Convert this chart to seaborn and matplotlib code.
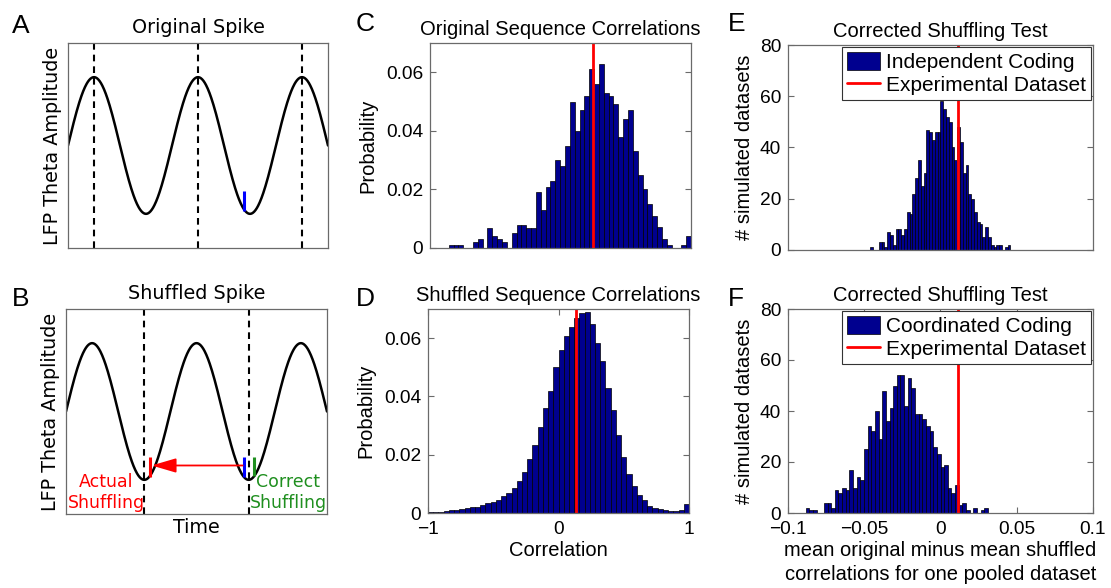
import numpy as np
import pandas as pd
import matplotlib
matplotlib.use("Agg")
import matplotlib.pyplot as plt
import seaborn as sns
from matplotlib.patches import Patch
from matplotlib.lines import Line2D

# ---------------- data ----------------
# Panels A/B: schematic theta wave, 2.5 cycles (positions in units of pi)
wave_span_pi = 5.0
peak_lines_pi = [0.5, 2.5, 4.5]
trough_lines_pi = [1.5, 3.5]
spike_orig_pi = 3.385
spike_actual_pi = 1.603
spike_correct_pi = 3.602
spike_top = -0.66
spike_bottom = -0.96
arrow_y = -0.79
arrow_tip_pi = 1.64
arrow_tail_pi = 3.384
actual_label_pi = 0.766
correct_label_pi = 4.262
label_y = -1.19

# Panel C: original sequence correlations (50 bins)
c_range = (-0.857, 1.0)
c_probs = [0.001, 0.001, 0.001, 0.0, 0.0, 0.002, 0.003, 0.0, 0.007, 0.004,
           0.003, 0.002, 0.0, 0.005, 0.008, 0.008, 0.007, 0.007, 0.019, 0.013,
           0.021, 0.023, 0.030, 0.028, 0.035, 0.050, 0.040, 0.047, 0.052, 0.061,
           0.056, 0.063, 0.053, 0.052, 0.049, 0.038, 0.044, 0.047, 0.033, 0.025,
           0.020, 0.015, 0.011, 0.007, 0.003, 0.001, 0.0, 0.0, 0.001, 0.004]
c_exp = 0.25

# Panel D: shuffled sequence correlations (50 bins)
d_range = (-1.0, 1.0)
d_probs = [0.0002, 0.0002, 0.0005, 0.0007, 0.0009, 0.0011, 0.0015, 0.0016, 0.0022, 0.0022,
           0.0027, 0.0034, 0.0038, 0.0043, 0.0058, 0.0067, 0.0086, 0.0111, 0.0142, 0.0184,
           0.0233, 0.0296, 0.0360, 0.0419, 0.0500, 0.0560, 0.0606, 0.0637, 0.0670, 0.0685,
           0.0690, 0.0648, 0.0585, 0.0520, 0.0429, 0.0355, 0.0267, 0.0193, 0.0133, 0.0091,
           0.0062, 0.0045, 0.0025, 0.0018, 0.0013, 0.0009, 0.0008, 0.0008, 0.0010, 0.0030]
d_exp = 0.134

# Panel E: independent coding (50 bins)
e_range = (-0.046, 0.0459)
e_counts = [1, 0, 0, 3, 3, 1, 7, 6, 2, 8,
            8, 6, 8, 15, 14, 22, 28, 35, 25, 30,
            47, 46, 43, 46, 46, 58, 55, 52, 50, 40,
            35, 48, 42, 30, 33, 22, 20, 15, 11, 10,
            5, 9, 5, 2, 1, 2, 2, 0, 1, 2]
e_exp = 0.0113

# Panel F: coordinated coding (50 bins)
f_range = (-0.0884, 0.0311)
f_counts = [2, 1, 1, 0, 0, 4, 4, 2, 9, 8,
            10, 9, 17, 10, 14, 13, 25, 34, 32, 40,
            29, 48, 36, 41, 50, 54, 54, 42, 53, 49,
            39, 39, 37, 34, 32, 26, 23, 18, 19, 10,
            8, 11, 3, 4, 1, 0, 2, 0, 1, 2]
f_exp = 0.0113

corr_ticks = [-1, 0, 1]
corr_ticklabels = ["\u22121", "0", "1"]
prob_ticks = [0, 0.02, 0.04, 0.06]
prob_ticklabels = ["0", "0.02", "0.04", "0.06"]
count_ticks = [0, 20, 40, 60, 80]
diff_ticks = [-0.1, -0.05, 0, 0.05, 0.1]
diff_ticklabels = ["\u22120.1", "\u22120.05", "0", "0.05", "0.1"]

# ---------------- style ----------------
sns.set_theme(style="white")
plt.rcParams["font.family"] = ["Liberation Sans", "DejaVu Sans"]
plt.rcParams["text.color"] = "black"
plt.rcParams["axes.labelcolor"] = "black"
plt.rcParams["xtick.color"] = "black"
plt.rcParams["ytick.color"] = "black"
NAVY = "#00008f"
SPINE = "#6a6a6a"
W, H = 1111, 588
fig = plt.figure(figsize=(W / 100, H / 100), dpi=100)
fig.patch.set_facecolor("white")

def px_axes(x0, y0, x1, y1):
    return fig.add_axes([x0 / W, 1 - y1 / H, (x1 - x0) / W, (y1 - y0) / H])

def box(ax):
    for s in ax.spines.values():
        s.set_visible(True)
        s.set_color(SPINE)
        s.set_linewidth(0.9)

TICK_FS = 13.8
LAB_FS = 14.5
SCH_FS = 13.8

def hist_panel(ax, rng, vals):
    edges = np.linspace(rng[0], rng[1], len(vals) + 1)
    centers = (edges[:-1] + edges[1:]) / 2
    df = pd.DataFrame({"x": centers, "w": vals})
    sns.histplot(data=df, x="x", weights="w", bins=[float(e) for e in edges], ax=ax,
                 color=NAVY, edgecolor="black", linewidth=0.5, alpha=1.0, stat="count")
    box(ax)
    ax.tick_params(axis="both", direction="in", length=4, width=0.8, color=SPINE,
                   labelcolor="black", labelsize=TICK_FS, pad=5, left=True, right=True)
    ax.set_ylabel("")
    ax.set_xlabel("")

# ---------- A / B schematic ----------
wave_x = np.linspace(0, wave_span_pi * np.pi, 600)
wave_y = np.sin(wave_x)

def schematic(ax, title, dashed):
    sns.lineplot(x=wave_x, y=wave_y, ax=ax, color="black", lw=1.8, sort=False)
    for p in dashed:
        ax.axvline(p * np.pi, color="black", lw=1.5, ls=(0, (3.2, 2.4)))
    ax.set_xlim(0, wave_span_pi * np.pi)
    ax.set_ylim(-1.5, 1.5)
    ax.set_xticks([])
    ax.set_yticks([])
    box(ax)
    ax.set_title(title, fontsize=SCH_FS, family="DejaVu Sans", pad=7)
    ax.set_ylabel("LFP Theta Amplitude", fontsize=SCH_FS, family="DejaVu Sans", labelpad=4)

axA = px_axes(68, 43, 328, 248)
schematic(axA, "Original Spike", peak_lines_pi)
axA.vlines(spike_orig_pi * np.pi, spike_bottom, spike_top, color="#0000ff", lw=2.2)

axB = px_axes(66, 309, 327, 514)
schematic(axB, "Shuffled Spike", trough_lines_pi)
axB.vlines(spike_actual_pi * np.pi, spike_bottom, spike_top, color="red", lw=2.2)
axB.vlines(spike_orig_pi * np.pi + 0.06, spike_bottom, spike_top, color="#0000ff", lw=2.2)
axB.vlines(spike_correct_pi * np.pi, spike_bottom + 0.02, spike_top, color="#1f8f1f", lw=2.2)
axB.annotate("", xy=(arrow_tip_pi * np.pi, arrow_y), xytext=(arrow_tail_pi * np.pi, arrow_y),
             arrowprops=dict(arrowstyle="-|>,head_length=0.75,head_width=0.22", color="red",
                             lw=1.3, mutation_scale=20, shrinkA=0, shrinkB=0))
axB.text(actual_label_pi * np.pi, label_y, "Actual\nShuffling", color="red", ha="center",
         va="center", fontsize=12.5, family="DejaVu Sans")
axB.text(correct_label_pi * np.pi, label_y, "Correct\nShuffling", color="#1f8f1f", ha="center",
         va="center", fontsize=12.5, family="DejaVu Sans")
axB.set_xlabel("Time", fontsize=SCH_FS, family="DejaVu Sans", labelpad=3)

# ---------- C ----------
axC = px_axes(430, 43, 691, 248)
hist_panel(axC, c_range, c_probs)
axC.axvline(c_exp, color="red", lw=2.0)
axC.set_xlim(-1, 1)
axC.set_ylim(0, 0.07)
axC.set_xticks([])
axC.set_yticks(prob_ticks, prob_ticklabels)
axC.set_ylabel("Probability", fontsize=LAB_FS, labelpad=6)
axC.set_title("Original Sequence Correlations", fontsize=LAB_FS, pad=6)

# ---------- D ----------
axD = px_axes(428, 309, 689, 513)
hist_panel(axD, d_range, d_probs)
axD.axvline(d_exp, color="red", lw=2.0)
axD.set_xlim(-1, 1)
axD.set_ylim(0, 0.07)
axD.set_xticks(corr_ticks, corr_ticklabels)
axD.tick_params(axis="x", top=True, bottom=True, pad=6)
axD.set_yticks(prob_ticks, prob_ticklabels)
axD.set_ylabel("Probability", fontsize=LAB_FS, labelpad=6)
axD.set_xlabel("Correlation", fontsize=LAB_FS, labelpad=2)
axD.set_title("Shuffled Sequence Correlations", fontsize=LAB_FS, pad=6)

# ---------- E / F ----------
def test_panel(ax, rng, counts, exp, name):
    hist_panel(ax, rng, counts)
    ax.axvline(exp, color="red", lw=2.0)
    ax.set_xlim(-0.1, 0.1)
    ax.set_ylim(0, 80)
    ax.set_yticks(count_ticks, [str(t) for t in count_ticks])
    ax.set_ylabel("# simulated datasets", fontsize=LAB_FS, labelpad=4)
    ax.set_title("Corrected Shuffling Test", fontsize=LAB_FS, pad=6)
    handles = [Patch(facecolor=NAVY, edgecolor="black", linewidth=0.5),
               Line2D([0], [0], color="red", lw=2.0)]
    leg = ax.legend(handles, [name, "Experimental Dataset"], loc="upper right",
                    fontsize=15, frameon=True, fancybox=False, framealpha=1,
                    edgecolor="#333333", borderaxespad=0.1, borderpad=0.25,
                    handlelength=1.6, handleheight=0.9, handletextpad=0.25,
                    labelspacing=0.15)
    leg.get_frame().set_linewidth(0.8)

axE = px_axes(788, 45, 1093, 250)
test_panel(axE, e_range, e_counts, e_exp, "Independent Coding")
axE.set_xticks([])

axF = px_axes(788, 309, 1093, 513)
test_panel(axF, f_range, f_counts, f_exp, "Coordinated Coding")
axF.set_xticks(diff_ticks, diff_ticklabels)
axF.tick_params(axis="x", top=True, bottom=True, pad=6)
axF.set_xlabel("mean original minus mean shuffled\ncorrelations for one pooled dataset",
               fontsize=LAB_FS, labelpad=2, linespacing=1.3)

# ---------- panel letters ----------
for letter, x, y in [("A", 12, 33), ("B", 12, 306), ("C", 356, 31), ("D", 356, 306),
                     ("E", 728, 31), ("F", 728, 306)]:
    fig.text(x / W, 1 - y / H, letter, fontsize=19, ha="left", va="baseline")

fig.savefig("out.png", dpi=100, facecolor="white")
